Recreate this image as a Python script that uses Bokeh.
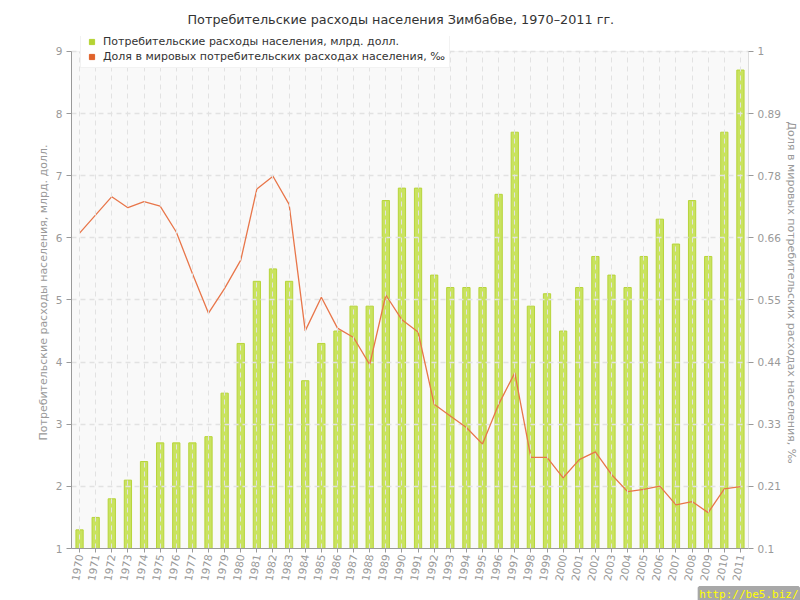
import numpy as np
from bokeh.plotting import figure
from bokeh.models import (ColumnDataSource, LinearAxis, Range1d, FixedTicker,
                          Legend, LegendItem, Title, BoxAnnotation)
from bokeh.embed import file_html
from bokeh.resources import INLINE

years = list(range(1970, 2012))
spending = [1.3, 1.5, 1.8, 2.1, 2.4, 2.7, 2.7, 2.7, 2.8, 3.5,
            4.3, 5.3, 5.5, 5.3, 3.7, 4.3, 4.5, 4.9, 4.9, 6.6,
            6.8, 6.8, 5.4, 5.2, 5.2, 5.2, 6.7, 7.7, 4.9, 5.1,
            4.5, 5.2, 5.7, 5.4, 5.2, 5.7, 6.3, 5.9, 6.6, 5.7, 7.7, 8.7]
share = [0.671, 0.704, 0.737, 0.717, 0.728, 0.720, 0.673, 0.598, 0.526, 0.571,
         0.622, 0.751, 0.774, 0.723, 0.494, 0.555, 0.499, 0.482, 0.433, 0.559,
         0.514, 0.492, 0.361, 0.340, 0.319, 0.289, 0.361, 0.418, 0.265, 0.265,
         0.228, 0.261, 0.275, 0.234, 0.203, 0.207, 0.213, 0.179, 0.185, 0.165,
         0.208, 0.212]
left_ticks = [1, 2, 3, 4, 5, 6, 7, 8, 9]
right_tick_labels = ["0.1", "0.21", "0.33", "0.44", "0.55", "0.66", "0.78", "0.89", "1"]

title = "Потребительские расходы населения Зимбабве, 1970–2011 гг."
name_bar = "Потребительские расходы населения, млрд. долл."
name_line = "Доля в мировых потребительских расходах населения, ‰"
watermark = "http://be5.biz/"

FONT = "DejaVu Sans"
GRAY = "#999999"

# left axis spans 1..9; the frame is extended a little above 9 so the legend
# box can sit over the top edge of the plot area like in the original
Y0, Y1, YTOP = 1, 9, 9.24
R0, R1 = 0.1, 1.0
RTOP = R0 + (R1 - R0) * (YTOP - Y0) / (Y1 - Y0)

src = ColumnDataSource(dict(year=years, spending=spending, share=share))

p = figure(width=800, height=600, output_backend="svg", toolbar_location=None,
           x_range=Range1d(1969.5, 2011.5), y_range=Range1d(Y0, YTOP),
           min_border_left=71, min_border_right=50, min_border_top=35,
           min_border_bottom=50, background_fill_color="white",
           border_fill_color="white", outline_line_color=None)

p.title.text = title
p.title.align = "left"
p.title.offset = 116
p.title.standoff = 19
p.title.text_font = FONT
p.title.text_font_size = "12.8px"
p.title.text_font_style = "normal"
p.title.text_color = "#333333"

p.extra_y_ranges = {"share": Range1d(R0, RTOP)}

# plot-area background between the axis limits
p.add_layout(BoxAnnotation(bottom=Y0, top=Y1, fill_color="#f9f9f9", fill_alpha=1,
                           line_color="#dddddd", line_width=1, level="image"))

bars = p.vbar(x="year", top="spending", bottom=Y0, width=0.45, source=src,
              fill_color="#c9e35f", line_color="#b7d43a", line_width=1,
              level="underlay")
line = p.line(x="year", y="share", source=src, y_range_name="share",
              line_color="#e8764a", line_width=1.3)

# axes
xa = p.xaxis[0]
xa.ticker = FixedTicker(ticks=years)
xa.major_label_orientation = 1.40
yl = p.yaxis[0]
yl.ticker = FixedTicker(ticks=left_ticks)
yl.bounds = (Y0, Y1)
yl.axis_label = name_bar
ra = LinearAxis(y_range_name="share", axis_label=name_line)
rticks = list(np.linspace(R0, R1, len(right_tick_labels)))
ra.ticker = FixedTicker(ticks=rticks)
ra.bounds = (R0, R1)
ra.major_label_overrides = {float(t): s for t, s in zip(rticks, right_tick_labels)}
p.add_layout(ra, "right")

for ax in [xa, yl, ra]:
    ax.axis_line_color = GRAY
    ax.major_tick_line_color = GRAY
    ax.major_tick_out = 5
    ax.major_tick_in = 0
    ax.minor_tick_line_color = None
    ax.major_label_text_color = GRAY
    ax.major_label_text_font = FONT
    ax.major_label_text_font_size = "10.5px"
    ax.axis_label_text_color = GRAY
    ax.axis_label_text_font = FONT
    ax.axis_label_text_font_size = "11px"
    ax.axis_label_text_font_style = "normal"
    ax.major_label_standoff = 4
    ax.axis_label_standoff = 3
ra.axis_line_color = "#dddddd"
ra.axis_label_standoff = 1
xa.major_label_standoff = 2
xa.major_tick_out = 4

# grids
p.xgrid.ticker = FixedTicker(ticks=years)
p.xgrid.grid_line_color = "#e2e2e2"
p.xgrid.grid_line_dash = "5 4"
p.xgrid.level = "glyph"
p.xgrid.cross_bounds = (Y0, Y1)
p.ygrid.ticker = FixedTicker(ticks=left_ticks)
p.ygrid.grid_line_color = "#e2e2e2"
p.ygrid.grid_line_dash = "5 4"
p.ygrid.grid_line_width = 1.5
p.ygrid.level = "underlay"

# legend with square markers (hidden scatter renderers only feed the legend)
lg1 = p.scatter(x="year", y="spending", source=src, marker="square",
                fill_color="#b5d334", line_color="#b5d334", visible=False)
lg2 = p.scatter(x="year", y="share", source=src, y_range_name="share",
                marker="square", fill_color="#e0622a", line_color="#e0622a",
                visible=False)
legend = Legend(items=[LegendItem(label=name_bar, renderers=[lg1], index=0),
                       LegendItem(label=name_line, renderers=[lg2], index=0)],
                location=(9, 480), orientation="vertical",
                background_fill_color="white", background_fill_alpha=1,
                border_line_color="#e6e6e6", label_text_font=FONT,
                label_text_font_size="11px", label_text_color="#333333",
                glyph_width=13, glyph_height=13, label_standoff=5,
                spacing=2, padding=4, margin=0, label_height=13)
p.add_layout(legend, "center")

wm = Title(text=watermark, align="right", standoff=0, offset=-50,
           vertical_align="bottom",
           text_color="#ffff00", text_font="DejaVu Sans Mono",
           text_font_size="11px", text_font_style="normal",
           background_fill_color="#a8a8a8", padding=0,
           border_line_color="#a8a8a8", border_line_width=3)
p.add_layout(wm, "below")

open("out.html", "w").write(file_html(p, INLINE))
